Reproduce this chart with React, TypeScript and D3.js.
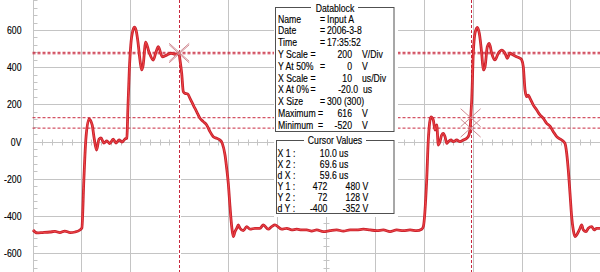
import React from "react";
import * as d3 from "d3";

// Waveform samples: time (us) and voltage (V)
const timeUs = [
  -19.9, -19.1, -17.9, -16.4, -15.4, -14.4, -13.4, -12.3, -11.3, -10.3, -9.9, -9.5, -9.1,
  -8.45, -7.8, -7.4, -6.9, -6.4, -6.0, -5.4, -4.8, -4.2, -3.5, -2.9, -2.3, -1.7, -1.1, -0.7,
  -0.5, -0.2, 0.1, 0.55, 0.86, 1.17, 1.57, 1.98, 2.33, 2.6, 3.15, 3.82, 4.7, 5.26, 5.73, 6.54,
  7.44, 8.32, 9.14, 9.96,
  10.16, 10.51, 10.84, 11.19, 11.74, 12.21, 12.88, 13.58, 14.25, 14.93, 15.62, 16.3, 16.97,
  17.67, 18.34, 18.81, 19.37, 19.71, 20.04, 20.39, 20.74, 21.06, 21.41, 21.76, 22.09, 22.43,
  23.11, 23.8, 24.48, 25.5, 26.52, 27.2, 28.22, 28.92, 29.59,
  30.96, 31.98, 33.0, 34.03, 35.05, 36.07, 37.1, 38.12, 39.47, 40.84, 42.21, 43.56, 44.93,
  46.3, 47.65, 49.02, 50.39, 51.74, 53.11, 54.48, 55.83, 57.2, 58.57, 59.59, 59.92,
  60.61, 60.94, 61.49, 61.96, 62.31, 62.66, 62.99, 63.33, 63.68, 64.01, 64.36, 64.71, 65.03,
  65.58, 66.05, 66.75, 67.42, 68.1, 68.79, 69.26, 69.53, 69.67, 69.82, 70.14, 70.49, 70.96,
  71.37, 71.86, 72.19, 72.53, 73.01, 73.42, 73.9, 74.58, 75.26, 75.95, 76.63, 77.09, 77.65,
  78.32, 79.02, 79.69, 80.04, 80.37, 80.72, 81.06, 81.39, 81.74, 82.42, 83.11, 83.78, 84.46,
  85.15, 85.82, 86.5, 87.2, 88.22, 88.89, 89.24, 89.57, 89.92, 90.26, 90.59, 90.94, 91.29,
  91.82, 92.31, 92.64, 93.19, 93.66, 94.36, 94.83, 95.38, 96.05,
];
const volts = [
  -476, -492, -490, -487, -484, -490, -482, -490, -487, -476, -465, -207, 8,
  121, 89, 19, -46, 13, 19, -8, 3, -11, 13, -8, 8, -3, 13, 19,
  170, 385, 519, 600, 616, 600, 535, 438, 385, 406, 535, 482, 438, 482, 510, 456,
  465, 475, 469, 475,
  439, 367, 268, 259, 256, 232, 196, 160, 125, 107, 89, 53, 26,
  17, 8, -10, -73, -144, -225, -351, -458, -512, -485, -467, -449, -467,
  -480, -458, -472, -467, -467, -449, -472, -458, -449,
  -472, -467, -476, -472, -476, -476, -482, -476, -485, -480, -476, -482, -476,
  -476, -472, -476, -480, -476, -485, -476, -480, -476, -480, -472, -458,
  -207, 8, 133, 116, 62, 89, -19, -1, 35, 44, 26, -10, -1,
  8, -1, 8, -1, 8, 17, 35, 80, 153, 223, 475, 582, 614,
  582, 475, 385, 402, 510, 528, 475, 439, 475, 492, 475, 448, 475,
  465, 456, 448, 439, 402, 277, 241, 250, 232, 196, 170, 143, 125,
  98, 83, 53, 26, 8, -10, -63, -153, -279, -405, -476, -512, -503,
  -476, -449, -476, -485, -467, -458, -476, -467, -467,
];

// Axis tick labels
const yTickValues = [600, 400, 200, 0, -200, -400, -600];
const yTickLabels = ["600", "400", "200", "0V", "-200", "-400", "-600"];

// Cursors
const cursorX = [10.0, 69.6];
const cursorY = [472, 480, 72, 128];
const markerPoints: [number, number][] = [
  [10.0, 472],
  [10.0, 480],
  [69.6, 72],
  [69.6, 128],
];

// Datablock rows
const dbLabels = ["Name", "Date", "Time", "Y Scale", "Y At 50%", "X Scale", "X At 0%", "X Size", "Maximum", "Minimum"];
const dbEqX = [320, 320, 320, 310.5, 320, 310.5, 310.5, 320, 318, 318];
const dbValues = ["Input A", "2006-3-8", "17:35:52", "200", "0", "10", "-20.0", "300 (300)", "616", "-520"];
const dbUnits = ["", "", "", "V/Div", "V", "us/Div", "us", "", "V", "V"];

// Cursor value rows
const cvLabels = ["X 1 :", "X 2 :", "d X :", "Y 1 :", "Y 2 :", "d Y :"];
const cvCol1 = ["10.0 us", "69.6 us", "59.6 us", "472", "72", "-400"];
const cvCol2 = ["", "", "", "480 V", "128 V", "-352 V"];

const W = 600;
const H = 272;
const FONT = "'Liberation Sans', Arial, sans-serif";
const SX = 0.79;

function T(props: { x: number; y: number; anchor?: string; children: React.ReactNode; size?: number }) {
  const { x, y, anchor = "start", children, size = 11 } = props;
  return (
    <text
      transform={`translate(${x},${y}) scale(${SX},1)`}
      textAnchor={anchor}
      fontFamily={FONT}
      fontSize={size}
      fill="#000"
      stroke="#000"
      strokeWidth={0.15}
    >
      {children}
    </text>
  );
}

export default function App() {
  const x = d3.scaleLinear().domain([-20, 100]).range([32.5, 619.3]);
  const y = d3.scaleLinear().domain([-800, 800]).range([141.5 + 148.66, 141.5 - 148.66]);

  const pts: [number, number][] = timeUs.map((t, i) => [t, volts[i]]);
  const line = d3
    .line<[number, number]>()
    .x((d) => x(d[0]))
    .y((d) => y(d[1]))
    .curve(d3.curveMonotoneX);
  const path = line(pts) || "";

  const gridT = d3.range(-10, 100, 10);
  const gridV = d3.range(-600, 601, 200);
  const minorV = d3.range(-800, 801, 40);
  const minorT = d3.range(-20, 101, 2);

  const gridColor = "#c4c4c4";
  const cursorColor = "#c8283e";
  const boxColor = "#505050";

  const px = (v: number) => Math.round(v) + 0.5;

  return (
    <svg
      width={W}
      height={H}
      style={{ position: "absolute", left: 0, top: 0, background: "#fff" }}
    >
      <rect x={0} y={0} width={W} height={H} fill="#fff" />
      {/* grid */}
      {gridT.map((t) => (
        <line key={"gt" + t} x1={px(x(t))} x2={px(x(t))} y1={0} y2={H} stroke={gridColor} strokeWidth={1} />
      ))}
      {gridV.map((v) => (
        <line key={"gv" + v} x1={px(x(-20))} x2={W} y1={px(y(v))} y2={px(y(v))} stroke={gridColor} strokeWidth={1} />
      ))}
      {/* left axis */}
      <line x1={px(x(-20))} x2={px(x(-20))} y1={0} y2={H} stroke={gridColor} />
      {minorV.map((v) => (
        <line key={"lt" + v} x1={px(x(-20))} x2={px(x(-20)) + 4} y1={px(y(v))} y2={px(y(v))} stroke={gridColor} />
      ))}
      {/* centre vertical axis ticks */}
      {minorV.map((v) => (
        <line key={"ct" + v} x1={px(x(40)) - 3} x2={px(x(40)) + 3} y1={px(y(v))} y2={px(y(v))} stroke={gridColor} />
      ))}
      {/* centre horizontal axis ticks */}
      {minorT.map((t) => (
        <line key={"ht" + t} x1={px(x(t))} x2={px(x(t))} y1={px(y(0)) - 3} y2={px(y(0)) + 3} stroke={gridColor} />
      ))}
      {/* y labels */}
      {yTickValues.map((v, i) => (
        <T key={"yl" + v} x={21.5} y={y(v) + 4} anchor="end">
          {yTickLabels[i]}
        </T>
      ))}

      {/* cursor lines */}
      {cursorX.map((t, i) => (
        <line key={"cxw" + i} x1={px(x(t))} x2={px(x(t))} y1={0} y2={H} stroke="#fff" strokeWidth={3} />
      ))}
      {cursorY.map((v, i) => (
        <line key={"cy" + i} x1={x(-20)} x2={W} y1={y(v)} y2={y(v)} stroke={cursorColor} strokeDasharray="3,2" strokeWidth={1} />
      ))}
      {cursorX.map((t, i) => (
        <line key={"cx" + i} x1={px(x(t))} x2={px(x(t))} y1={0} y2={H} stroke={cursorColor} strokeDasharray="3,2" strokeWidth={1} />
      ))}

      {/* waveform */}
      <path d={path} fill="none" stroke="#c8202c" strokeWidth={2.8} strokeLinejoin="round" />
      <path d={path} fill="none" stroke="#f24848" strokeWidth={1} strokeLinejoin="round" />

      {/* markers */}
      {markerPoints.map(([t, v], i) => {
        const cx = x(t);
        const cy = y(v);
        return (
          <g key={"m" + i} stroke="#d08a92" strokeWidth={1}>
            <line x1={cx - 10} y1={cy - 9} x2={cx + 10} y2={cy + 9} />
            <line x1={cx - 10} y1={cy + 9} x2={cx + 10} y2={cy - 9} />
          </g>
        );
      })}

      {/* panel */}
      <rect x={274} y={0} width={124} height={217} fill="#fff" />
      {/* Datablock box */}
      <rect x={275.5} y={7.5} width={118.5} height={124} fill="none" stroke={boxColor} />
      <rect x={311} y={2} width={47} height={10} fill="#fff" />
      <T x={335} y={12} anchor="middle">Datablock</T>
      {dbLabels.map((lab, i) => {
        const by = 22.7 + 11.79 * i;
        const isText = dbUnits[i] === "";
        return (
          <g key={"db" + i}>
            <T x={278} y={by}>{lab}</T>
            <T x={dbEqX[i]} y={by}>=</T>
            {isText ? (
              <T x={327} y={by}>{dbValues[i]}</T>
            ) : (
              <>
                <T x={i === 6 ? 358 : 352} y={by} anchor="end">{dbValues[i]}</T>
                <T x={i === 6 ? 363 : 362} y={by}>{dbUnits[i]}</T>
              </>
            )}
          </g>
        );
      })}

      {/* Cursor Values box */}
      <rect x={276.5} y={140.5} width={117.5} height={73} fill="none" stroke={boxColor} />
      <rect x={304} y={134} width={62} height={10} fill="#fff" />
      <T x={335} y={144} anchor="middle">Cursor Values</T>
      {cvLabels.map((lab, i) => {
        const by = 157 + 10.9 * i;
        return (
          <g key={"cv" + i}>
            <T x={277.5} y={by}>{lab}</T>
            {cvCol2[i] === "" ? (
              <T x={348.3} y={by} anchor="end">{cvCol1[i]}</T>
            ) : (
              <>
                <T x={327.3} y={by} anchor="end">{cvCol1[i]}</T>
                <T x={368.3} y={by} anchor="end">{cvCol2[i]}</T>
              </>
            )}
          </g>
        );
      })}
    </svg>
  );
}
